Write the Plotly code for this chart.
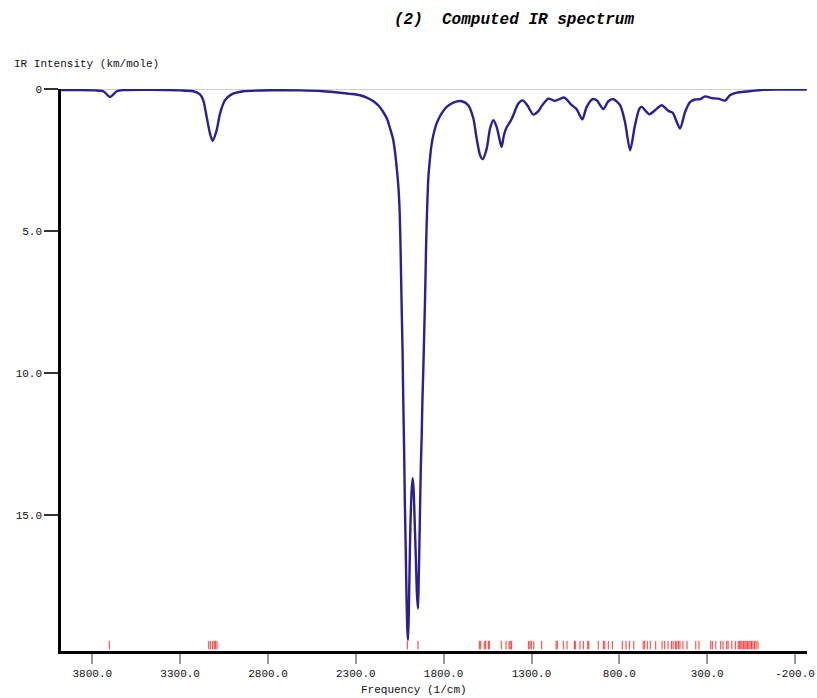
import plotly.graph_objects as go

# Broadened spectrum, sampled along the frequency axis (1/cm) -> IR intensity
freq = [3978, 3870, 3785, 3737, 3699, 3661, 3625, 3472, 3301, 3225, 3187, 3168,
        3149, 3130, 3115, 3092, 3073, 3045, 3007, 2940, 2771, 2618, 2487, 2390,
        2333, 2276, 2235, 2200, 2170, 2144, 2122, 2105, 2088, 2077, 2066, 2057,
        2050, 2045, 2040, 2034, 2030, 2025, 2021, 2016, 2011, 2007, 2003,
        1999, 1994, 1989, 1982, 1976, 1971, 1965, 1958, 1952, 1946,
        1942, 1938, 1934, 1930, 1925, 1921, 1916, 1912, 1908, 1904, 1901,
        1897, 1893, 1887, 1878, 1870, 1859, 1841, 1821, 1783, 1745, 1697, 1660,
        1631, 1612, 1593, 1578, 1555, 1536, 1517, 1498, 1479, 1470, 1457, 1441,
        1422, 1404, 1375, 1350, 1324, 1290, 1261, 1242, 1204, 1166, 1115, 1071,
        1043, 1011, 986, 952, 929, 891, 863, 834, 796, 768, 739, 711, 686, 673,
        629, 597, 559, 521, 496, 455, 426, 398, 369, 341, 312, 274, 237, 198,
        171, 132, 75, -19, -115, -267]
intensity = [0.03, 0.03, 0.04, 0.07, 0.27, 0.07, 0.03, 0.02, 0.04, 0.07, 0.18, 0.39,
             0.97, 1.56, 1.82, 1.44, 0.86, 0.39, 0.18, 0.07, 0.035, 0.04, 0.07, 0.12,
             0.16, 0.21, 0.30, 0.42, 0.58, 0.80, 1.05, 1.38, 1.75, 2.20, 2.85, 3.50,
             4.40, 5.70, 7.40, 9.20, 10.95, 12.70, 14.50, 16.20, 18.00, 19.00, 19.40,
             18.60, 16.90, 15.30, 14.10, 13.70, 14.10, 15.20, 16.60, 17.80, 18.30,
             17.30, 16.00, 14.60, 13.30, 12.20, 11.00, 9.90, 8.90, 7.90, 6.80, 5.80,
             4.80, 4.00, 3.10, 2.44, 2.00, 1.62, 1.22, 0.95, 0.62, 0.47, 0.42, 0.56,
             1.03, 1.74, 2.32, 2.46, 2.09, 1.38, 1.09, 1.33, 1.85, 2.03, 1.62, 1.33,
             1.15, 0.92, 0.50, 0.39, 0.56, 0.89, 0.77, 0.59, 0.33, 0.41, 0.29, 0.56,
             0.70, 1.06, 0.62, 0.35, 0.39, 0.70, 0.42, 0.35, 0.56, 1.15, 2.15, 1.27,
             0.68, 0.62, 0.88, 0.74, 0.56, 0.76, 0.83, 1.38, 0.80, 0.45, 0.36, 0.35,
             0.25, 0.31, 0.33, 0.40, 0.21, 0.12, 0.08, 0.02, 0.01, 0.01]

# Computed normal-mode frequencies (1/cm), drawn as sticks along the bottom
modes = [3703, 3137, 3128, 3115, 3106, 3098, 3090, 2007, 1946,
         1597, 1589, 1569, 1561, 1546, 1540, 1472, 1445, 1428, 1421, 1413,
         1318, 1309, 1301, 1287, 1242, 1160, 1153, 1119, 1098, 1056, 1051,
         1024, 1005, 980, 974, 920, 891, 883, 863, 840,
         783, 762, 743, 718, 665, 656, 641, 624, 593, 557, 542, 523, 504,
         494, 481, 473, 464, 455, 438, 415, 365, 347, 280, 271, 251, 223,
         210, 189, 181, 160, 140, 124, 117, 109, 102, 94, 86, 79, 71, 63,
         56, 48, 40, 31, 22, 11]

x_ticks = [3800, 3300, 2800, 2300, 1800, 1300, 800, 300, -200]
x_tick_text = ["3800.0", "3300.0", "2800.0", "2300.0", "1800.0", "1300.0",
               "800.0", "300.0", "-200.0"]
y_ticks = [0, 5, 10, 15]
y_tick_text = ["0", "5.0", "10.0", "15.0"]

MONO = "Liberation Mono, Courier New, monospace"

fig = go.Figure()
fig.add_trace(go.Scatter(
    x=freq, y=intensity, mode="lines",
    line=dict(color="#2a1f96", width=2.4, shape="spline", smoothing=0.7),
    hoverinfo="x+y", showlegend=False,
))

for m in modes:
    fig.add_shape(type="line", xref="x", yref="paper",
                  x0=m, x1=m, y0=0.003, y1=0.018,
                  line=dict(color="rgba(255,0,0,0.8)", width=1))

fig.update_layout(
    width=817, height=698,
    margin=dict(l=61, r=10, t=89, b=47, autoexpand=False),
    paper_bgcolor="white", plot_bgcolor="white",
    font=dict(family=MONO, size=11, color="#111"),
    xaxis=dict(
        range=[3978, -268], tickvals=x_ticks, ticktext=x_tick_text,
        showgrid=False, zeroline=False, automargin=False,
        showline=True, linecolor="black", linewidth=2.5,
        ticks="outside", ticklen=10, tickwidth=2, tickcolor="#999",
        tickfont=dict(family=MONO, size=11, color="#111"),
    ),
    yaxis=dict(
        range=[19.79, -0.01], tickvals=y_ticks, ticktext=y_tick_text,
        showgrid=False, automargin=False,
        zeroline=True, zerolinecolor="#cfcfcf", zerolinewidth=1,
        showline=True, linecolor="black", linewidth=2.5,
        ticks="outside", ticklen=14, tickwidth=1.5, tickcolor="#333",
        tickfont=dict(family=MONO, size=11, color="#111"),
    ),
    annotations=[
        dict(text="<b><i>(2)  Computed IR spectrum</i></b>",
             xref="paper", yref="paper", x=(392 - 61) / 746, y=1 + (89 - 20) / 562,
             xanchor="left", yanchor="middle", showarrow=False,
             font=dict(family=MONO, size=16, color="black")),
        dict(text="IR Intensity (km/mole)",
             xref="paper", yref="paper", x=(12 - 61) / 746, y=1 + (89 - 64) / 562,
             xanchor="left", yanchor="middle", showarrow=False,
             font=dict(family=MONO, size=11, color="#111")),
        dict(text="Frequency (1/cm)",
             xref="paper", yref="paper", x=(414 - 61) / 746, y=-(690 - 651) / 562,
             xanchor="center", yanchor="middle", showarrow=False,
             font=dict(family=MONO, size=11, color="#111")),
    ],
)

fig.write_html("out.html")
